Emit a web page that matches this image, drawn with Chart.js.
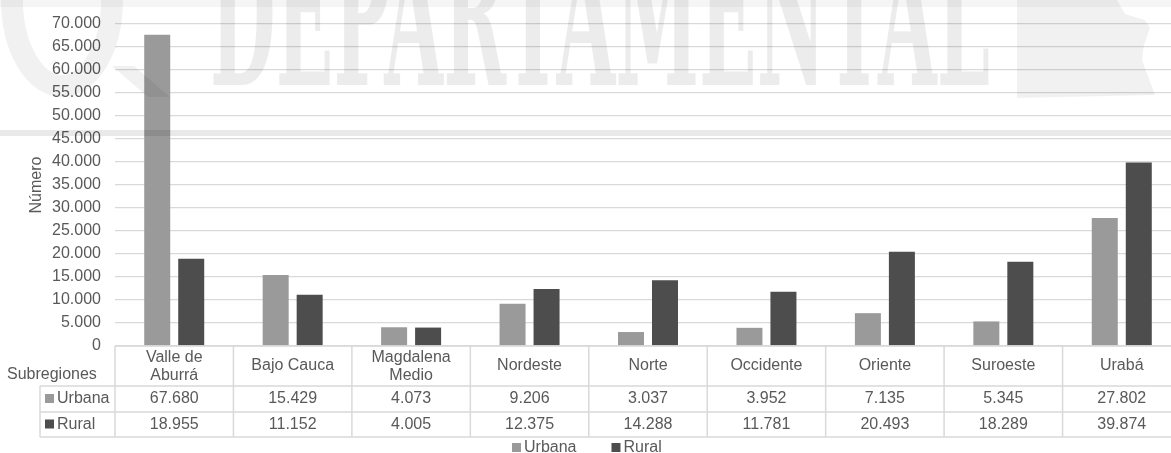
<!DOCTYPE html>
<html>
<head>
<meta charset="utf-8">
<script src="https://cdn.jsdelivr.net/npm/chart.js@4.4.1/dist/chart.umd.min.js"></script>
<style>
    html, body { margin: 0; padding: 0; background: #ffffff; overflow: hidden; }
    #moldura { width: 1171px; height: 453px; overflow: hidden; }
</style>
</head>
<body>
<div id="moldura">
    <canvas id="grafico" width="1181" height="453"></canvas>
</div>
<script>
// dados
const subregioes = [['Valle de', 'Aburrá'], 'Bajo Cauca', ['Magdalena', 'Medio'], 'Nordeste', 'Norte', 'Occidente', 'Oriente', 'Suroeste', 'Urabá'];
const urbana = [67680, 15429, 4073, 9206, 3037, 3952, 7135, 5345, 27802];
const rural = [18955, 11152, 4005, 12375, 14288, 11781, 20493, 18289, 39874];
const ticksY = [0, 5000, 10000, 15000, 20000, 25000, 30000, 35000, 40000, 45000, 50000, 55000, 60000, 65000, 70000];

const corTexto = '#595959';
const corLinha = '#d9d9d9';
const fonte = '"Liberation Sans", Arial, sans-serif';

// 67680 -> 67.680
function formatar(v) {
    return String(v).replace(/\B(?=(\d{3})+(?!\d))/g, '.');
}

// tabela de dados embaixo do grafico + legenda
const tabelaPlugin = {
    id: 'tabela',
    afterDraw(chart) {
        const ctx = chart.ctx;
        const x = chart.scales.x;
        const topo = chart.chartArea.bottom;
        const meio = (x.getPixelForValue(1) - x.getPixelForValue(0)) / 2;
        const linhas = [topo, 386, 412, 437];
        const esq = x.getPixelForValue(0) - meio;
        const dir = x.getPixelForValue(subregioes.length - 1) + meio;

        ctx.save();
        ctx.strokeStyle = corLinha;
        ctx.lineWidth = 1.5;

        // linhas horizontais
        ctx.beginPath();
        ctx.moveTo(esq, linhas[0]); ctx.lineTo(dir, linhas[0]);
        for (let i = 1; i < linhas.length; i++) {
            ctx.moveTo(40, linhas[i]); ctx.lineTo(dir, linhas[i]);
        }
        // verticais
        for (let i = 0; i <= subregioes.length; i++) {
            const px = esq + i * meio * 2;
            ctx.moveTo(px, linhas[0]); ctx.lineTo(px, linhas[3]);
        }
        ctx.moveTo(40, linhas[1]); ctx.lineTo(40, linhas[3]);
        ctx.stroke();

        ctx.fillStyle = corTexto;
        ctx.font = '16px ' + fonte;
        ctx.textAlign = 'center';
        ctx.textBaseline = 'middle';

        subregioes.forEach((nome, i) => {
            const cx = x.getPixelForValue(i);
            if (Array.isArray(nome)) {
                ctx.fillText(nome[0], cx, 358);
                ctx.fillText(nome[1], cx, 376);
            } else {
                ctx.fillText(nome, cx, 366);
            }
        });

        chart.data.datasets.forEach((ds, j) => {
            const cy = (linhas[j + 1] + linhas[j + 2]) / 2;
            ds.data.forEach((v, i) => {
                ctx.fillStyle = corTexto;
                ctx.fillText(formatar(v), x.getPixelForValue(i), cy);
            });
            ctx.fillStyle = ds.backgroundColor;
            ctx.fillRect(45, cy - 5, 9, 9);
            ctx.fillStyle = corTexto;
            ctx.textAlign = 'left';
            ctx.fillText(ds.label, 57, cy);
            ctx.textAlign = 'center';
        });

        ctx.textAlign = 'left';
        ctx.fillText('Subregiones', 7, 375);

        // legenda de baixo
        let lx = 512;
        chart.data.datasets.forEach(ds => {
            ctx.fillStyle = ds.backgroundColor;
            ctx.fillRect(lx, 443, 9, 9);
            ctx.fillStyle = corTexto;
            ctx.fillText(ds.label, lx + 12, 448);
            lx += 12 + ctx.measureText(ds.label).width + 35;
        });
        ctx.restore();
    }
};

// marca d'agua clarinha do fundo
const marcaPlugin = {
    id: 'marca',
    afterDraw(chart) {
        const ctx = chart.ctx;
        ctx.save();
        ctx.fillStyle = 'rgba(0,0,0,0.04)';
        ctx.fillRect(0, 0, chart.width, 7);

        ctx.fillStyle = 'rgba(0,0,0,0.085)';
        ctx.fillRect(0, 130, chart.width, 6);

        ctx.fillStyle = 'rgba(0,0,0,0.075)';
        ctx.font = 'bold 200px "DejaVu Serif Condensed", "DejaVu Serif"';
        ctx.textBaseline = 'alphabetic';
        const w = ctx.measureText('DEPARTAMENTAL').width;
        ctx.translate(210, 85);
        ctx.scale(780 / w, 1);
        ctx.fillText('DEPARTAMENTAL', 0, 0);
        ctx.restore();

        ctx.save();
        ctx.strokeStyle = 'rgba(0,0,0,0.055)';
        ctx.lineWidth = 22;
        ctx.beginPath();
        ctx.ellipse(62, 0, 50, 86, 0, 0, Math.PI);
        ctx.stroke();
        ctx.fillStyle = 'rgba(0,0,0,0.055)';
        ctx.beginPath();
        ctx.moveTo(112, 66); ctx.lineTo(134, 66); ctx.lineTo(170, 97); ctx.lineTo(148, 97);
        ctx.fill();

        ctx.beginPath();
        ctx.moveTo(1017, 0); ctx.lineTo(1117, 0); ctx.lineTo(1125, 14); ctx.lineTo(1145, 20);
        ctx.lineTo(1150, 28); ctx.lineTo(1144, 45); ctx.lineTo(1142, 60); ctx.lineTo(1155, 95);
        ctx.lineTo(1017, 98);
        ctx.fill();
        ctx.restore();
    }
};

const ctxGrafico = document.getElementById('grafico');

new Chart(ctxGrafico, {
    type: 'bar',
    data: {
        labels: subregioes,
        datasets: [
            {
                label: 'Urbana',
                data: urbana,
                backgroundColor: '#9a9a9a',
                categoryPercentage: 0.574,
                barPercentage: 0.765
            },
            {
                label: 'Rural',
                data: rural,
                backgroundColor: '#4d4d4d',
                categoryPercentage: 0.574,
                barPercentage: 0.765
            }
        ]
    },
    options: {
        responsive: false,
        animation: false,
        devicePixelRatio: 1,
        layout: {
            padding: { top: 24, left: 0, right: 0, bottom: 0 }
        },
        plugins: {
            legend: { display: false },
            tooltip: { enabled: false }
        },
        scales: {
            x: {
                grid: { display: false },
                border: { display: false },
                ticks: { display: false },
                afterFit: s => { s.height = 107; }
            },
            y: {
                min: 0,
                max: 70000,
                afterBuildTicks: s => { s.ticks = ticksY.map(v => ({ value: v })); },
                afterFit: s => { s.width = 115; },
                grid: { color: corLinha, lineWidth: 1.3, drawTicks: false },
                border: { display: false },
                ticks: {
                    padding: 14,
                    color: corTexto,
                    font: { family: fonte, size: 16 },
                    callback: v => formatar(v)
                },
                title: {
                    display: true,
                    text: 'Número',
                    color: corTexto,
                    font: { family: fonte, size: 16 },
                    padding: { top: 27, bottom: 0 }
                }
            }
        }
    },
    plugins: [tabelaPlugin, marcaPlugin]
});
</script>
</body>
</html>
